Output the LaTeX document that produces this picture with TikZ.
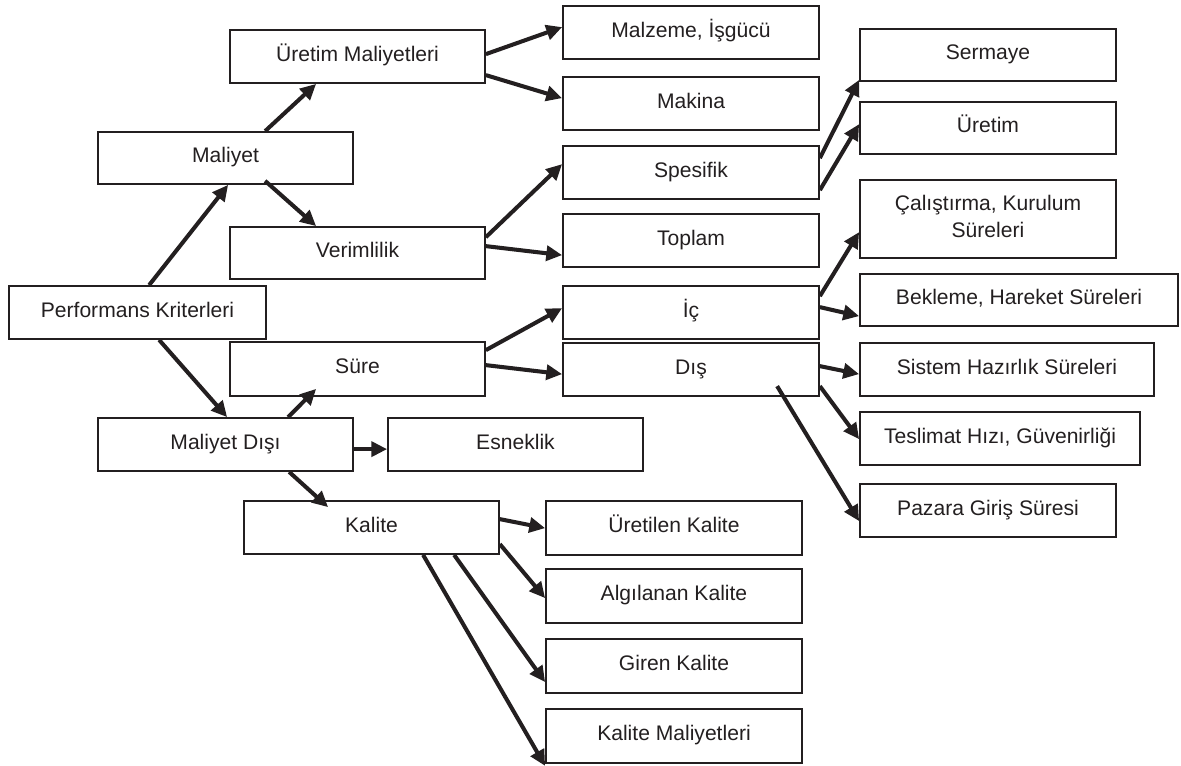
\documentclass[tikz,border=0pt]{standalone}
\usepackage{fontspec}
\setmainfont{Liberation Sans}
\usetikzlibrary{arrows.meta,calc}
\definecolor{ink}{HTML}{231F20}
% \placebox[options]{name}{x1}{y1}{x2}{y2}{text}: a framed box given by its corners
\newcommand\placebox[7][]{%
  \node[box, minimum width={(#5-#3)*0.02cm}, minimum height={(#6-#4)*0.02cm}, #1]
    (#2) at ({(#3+#5)/2},{(#4+#6)/2}) {#7};}
\begin{document}
\begin{tikzpicture}[x=0.02cm,y=-0.02cm,
  box/.style={draw=ink, line width=1pt, rectangle, inner sep=0pt, text=ink,
    font=\fontsize{12}{15.5}\selectfont, text height=8.4pt, text depth=3.1pt,
    align=center},
  link/.style={draw=ink, line width=2.3pt, -{Triangle[length=9pt,width=8.5pt]}}]
\useasboundingbox (0,0) rectangle (1181,765);

% boxes
\placebox{perf}{9}{286}{266}{339}{Performans Kriterleri}
\placebox{mal}{98}{132}{353}{184}{Maliyet}
\placebox{uremal}{230}{30}{485}{83}{Üretim Maliyetleri}
\placebox{ver}{230}{227}{485}{279}{Verimlilik}
\placebox{malz}{563}{6}{819}{59}{Malzeme, İşgücü}
\placebox{mak}{563}{77}{819}{130}{Makina}
\placebox{spe}{563}{146}{819}{199}{Spesifik}
\placebox{top}{563}{214}{819}{267}{Toplam}
\placebox{ser}{860}{29}{1116}{81}{Sermaye}
\placebox{ure}{860}{102}{1116}{154}{Üretim}
\placebox[text height=23.9pt]{cal}{860}{180}{1116}{258}{Çalıştırma, Kurulum\\Süreleri}
\placebox{bek}{860}{274}{1178}{326}{Bekleme, Hareket Süreleri}
\placebox{ic}{563}{286}{819}{339}{İç}
\placebox{dis}{563}{343}{819}{396}{Dış}
\placebox{sis}{860}{343}{1154}{396}{Sistem Hazırlık Süreleri}
\placebox{tes}{860}{412}{1140}{465}{Teslimat Hızı, Güvenirliği}
\placebox{paz}{860}{484}{1116}{537}{Pazara Giriş Süresi}
\placebox{sure}{230}{342}{485}{396}{Süre}
\placebox{md}{98}{418}{353}{471}{Maliyet Dışı}
\placebox{esn}{388}{418}{643}{471}{Esneklik}
\placebox{kal}{244}{501}{499}{554}{Kalite}
\placebox{urk}{546}{501}{802}{555}{Üretilen Kalite}
\placebox{alg}{546}{569}{802}{623}{Algılanan Kalite}
\placebox{gir}{546}{639}{802}{693}{Giren Kalite}
\placebox{kmal}{546}{709}{802}{763}{Kalite Maliyetleri}

% connectors
\draw[link] ($(perf.north west)+(141,0)$) -- ($(mal.south west)+(131,0)$);
\draw[link] ($(perf.south west)+(151,0)$) -- ($(md.north west)+(130,0)$);
\draw[link] ($(mal.north west)+(168,0)$) -- ($(uremal.south west)+(87,0)$);
\draw[link] ($(mal.south west)+(168,-4)$) -- ($(ver.north west)+(87,0)$);
\draw[link] ($(uremal.north east)+(0,25)$) -- ($(malz.north west)+(0,22)$);
\draw[link] ($(uremal.north east)+(0,46)$) -- ($(mak.north west)+(0,22)$);
\draw[link] ($(ver.north east)+(0,11)$) -- ($(spe.north west)+(0,19)$);
\draw[link] ($(ver.north east)+(0,20)$) -- ($(top.north west)+(0,42)$);
\draw[link] ($(spe.north east)+(0,13)$) -- ($(ser.south west)+(0,-2)$);
\draw[link] ($(spe.north east)+(0,45)$) -- ($(ure.north west)+(0,23)$);
\draw[link] ($(ic.north east)+(0,11)$) -- ($(cal.north west)+(0,53)$);
\draw[link] ($(ic.north east)+(0,22)$) -- ($(bek.north west)+(0,43)$);
\draw[link] ($(dis.north east)+(0,24)$) -- ($(sis.north west)+(0,32)$);
\draw[link] ($(dis.north east)+(0,44)$) -- ($(tes.north west)+(0,28)$);
\draw[link] ($(dis.north west)+(215,44)$) -- ($(paz.north west)+(0,38)$);
\draw[link] ($(sure.north east)+(0,9)$) -- ($(ic.north west)+(0,23)$);
\draw[link] ($(sure.north east)+(0,24)$) -- ($(dis.north west)+(0,32)$);
\draw[link] ($(md.north west)+(191,0)$) -- ($(sure.south west)+(87,-8)$);
\draw[link] ($(md.north east)+(0,32)$) -- ($(esn.north west)+(0,32)$);
\draw[link] ($(md.south west)+(192,0)$) -- ($(kal.north west)+(85,7)$);
\draw[link] ($(kal.north east)+(0,19)$) -- ($(urk.north west)+(0,28)$);
\draw[link] ($(kal.north east)+(0,44)$) -- ($(alg.north west)+(0,30)$);
\draw[link] ($(kal.south west)+(211,0)$) -- ($(gir.north west)+(0,44)$);
\draw[link] ($(kal.south west)+(180,0)$) -- ($(kmal.south west)+(0,2)$);
\end{tikzpicture}
\end{document}
